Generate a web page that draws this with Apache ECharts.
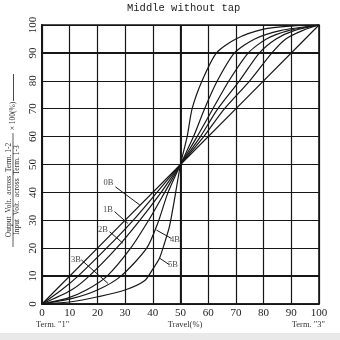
<!DOCTYPE html>
<html>
<head>
<meta charset="utf-8">
<script src="https://cdn.jsdelivr.net/npm/echarts@6/dist/echarts.min.js"></script>
<style>
  html, body { margin: 0; padding: 0; background: #fff; }
  #chart { width: 340px; height: 340px; }
</style>
</head>
<body>
<div id="chart"></div>
<script>
// Axis ticks (both axes run 0..100 %)
const tickValues = [0, 10, 20, 30, 40, 50, 60, 70, 80, 90, 100];

// Taper curves: [travel %, output ratio %]
const curve0B = [[0, 0], [50, 50], [100, 100]];
const curve1B = [[0, 0], [7, 5], [13, 10], [23.3, 20], [32.9, 30], [41.5, 40], [50, 50],
                 [58.4, 60], [65.9, 70], [75, 80], [83, 90], [88, 95], [94, 98], [100, 100]];
const curve2B = [[0, 0], [10.6, 5], [17, 10], [26.9, 20], [35.3, 30], [43, 40], [50, 50],
                 [57.2, 60], [63.5, 70], [71.3, 80], [78.5, 90], [84.5, 95], [91, 98], [100, 100]];
const curve3B = [[0, 0], [9, 2], [16, 5], [23.5, 10], [32, 20], [38.5, 30], [44.3, 40], [50, 50],
                 [56, 60], [61.7, 70], [67.5, 80], [74.5, 90], [81, 95], [89, 98], [100, 100]];
const curve4B = [[0, 0], [11, 2], [20, 5], [28.5, 10], [37.8, 20], [41.8, 29], [45.5, 40], [50, 50],
                 [54.7, 60], [58.7, 70], [63.3, 80], [69.5, 90], [76.8, 95], [86, 98], [100, 100]];
const curve5B = [[0, 0], [10.6, 0.8], [20.2, 2.6], [30, 5], [37, 8.3], [40, 12.5], [42.4, 16.4],
                 [44.2, 21.7], [46, 27.7], [47.8, 37.3], [50, 50],
                 [52.4, 60], [54.2, 70], [57.8, 80], [63, 90], [70, 95], [80, 98.5], [90, 99.6], [100, 100]];

const curveNames = ['0B', '1B', '2B', '3B', '4B', '5B'];
const curveData = [curve0B, curve1B, curve2B, curve3B, curve4B, curve5B];

// Curve labels: text position and leader line (from, to), in data units
const labelPos   = [[24.0, 43.4], [23.8, 33.7], [22.0, 26.5], [12.3, 15.8], [48.0, 22.9], [47.3, 14.0]];
const leaderFrom = [[26.5, 42.0], [26.2, 33.1], [24.4, 25.9], [14.2, 15.8], [41.3, 26.5], [42.5, 16.4]];
const leaderTo   = [[35.3, 35.5], [31.0, 28.9], [29.2, 21.8], [23.8, 7.4], [46.7, 23.5], [46.1, 14.0]];

// Heavier reference lines
const heavyX = [50];
const heavyY = [10, 90];

const INK = '#161616';
const serif = '"Liberation Serif", "DejaVu Serif", serif';

const chart = echarts.init(document.getElementById('chart'), null, { renderer: 'canvas' });

const curveSeries = curveData.map((d, i) => ({
  name: curveNames[i],
  type: 'line',
  data: d,
  smooth: 0.25,
  showSymbol: false,
  symbol: 'none',
  silent: true,
  lineStyle: { color: INK, width: 1.2 },
  z: 5
}));

const heavySeries = {
  type: 'line',
  data: [],
  silent: true,
  markLine: {
    silent: true,
    symbol: 'none',
    label: { show: false },
    lineStyle: { color: INK, width: 1.9, type: 'solid' },
    data: heavyX.map(v => ({ xAxis: v })).concat(heavyY.map(v => ({ yAxis: v })))
  },
  z: 3
};

const labelSeries = {
  type: 'scatter',
  data: labelPos.map((p, i) => ({ value: p, name: curveNames[i] })),
  symbolSize: 0,
  silent: true,
  label: {
    show: true,
    position: 'inside',
    formatter: p => p.name,
    color: INK,
    fontFamily: serif,
    fontSize: 8.5
  },
  markLine: {
    silent: true,
    symbol: 'none',
    label: { show: false },
    lineStyle: { color: INK, width: 1, type: 'solid' },
    data: leaderFrom.map((f, i) => [{ coord: f }, { coord: leaderTo[i] }])
  },
  z: 6
};

const option = {
  backgroundColor: '#ffffff',
  animation: false,
  title: {
    text: 'Middle without tap',
    left: 122,
    top: -2,
    textStyle: { fontFamily: '"Liberation Mono", monospace', fontSize: 10.5, fontWeight: 'normal', color: '#222' }
  },
  grid: {
    left: 42, top: 25, width: 277, height: 279,
    show: true, borderColor: INK, borderWidth: 1.6, backgroundColor: '#fff',
    containLabel: false
  },
  xAxis: {
    type: 'value', min: 0, max: 100, interval: 10,
    axisLine: { show: true, lineStyle: { color: INK, width: 1.6 } },
    axisTick: { show: false },
    axisLabel: {
      margin: 4, color: '#1e1e1e', fontFamily: serif, fontSize: 11,
      formatter: v => (tickValues.includes(v) ? String(v) : '')
    },
    splitLine: { show: true, lineStyle: { color: INK, width: 1.2 } }
  },
  yAxis: {
    type: 'value', min: 0, max: 100, interval: 10,
    axisLine: { show: true, lineStyle: { color: INK, width: 2 } },
    axisTick: { show: false },
    axisLabel: {
      margin: 3, rotate: 90, color: '#1e1e1e', fontFamily: serif, fontSize: 11,
      formatter: v => (tickValues.includes(v) ? String(v) : '')
    },
    splitLine: { show: true, lineStyle: { color: INK, width: 1.2 } }
  },
  graphic: [
    // faint strip along the bottom edge
    { type: 'rect', shape: { x: 0, y: 333, width: 340, height: 7 }, style: { fill: '#e9e9e9' }, silent: true, z: -10 },
    // x-axis captions
    { type: 'text', x: 36, y: 325, style: { text: 'Term. "1"', font: '8.5px ' + serif, fill: '#333', textAlign: 'left', align: 'left', textVerticalAlign: 'middle', verticalAlign: 'middle' } },
    { type: 'text', x: 185, y: 325, style: { text: 'Travel(%)', font: '8.5px ' + serif, fill: '#333', textAlign: 'center', align: 'center', textVerticalAlign: 'middle', verticalAlign: 'middle' } },
    { type: 'text', x: 325, y: 325, style: { text: 'Term. "3"', font: '8.5px ' + serif, fill: '#333', textAlign: 'right', align: 'right', textVerticalAlign: 'middle', verticalAlign: 'middle' } },
    // y-axis caption: ratio of voltages × 100 (%)
    { type: 'text', x: 9.5, y: 190, rotation: Math.PI / 2,
      style: { text: 'Output  Volt.  across  Term. 1-2', font: '7.5px ' + serif, fill: '#333', textAlign: 'center', align: 'center', textVerticalAlign: 'middle', verticalAlign: 'middle' } },
    { type: 'line', shape: { x1: 13, y1: 247, x2: 13, y2: 133 }, style: { stroke: '#333', lineWidth: 0.8 } },
    { type: 'text', x: 17.5, y: 190, rotation: Math.PI / 2,
      style: { text: 'Input  Volt.  across  Term. 1-3', font: '7.5px ' + serif, fill: '#333', textAlign: 'center', align: 'center', textVerticalAlign: 'middle', verticalAlign: 'middle' } },
    { type: 'text', x: 13.5, y: 116, rotation: Math.PI / 2,
      style: { text: '× 100(%)', font: '7.5px ' + serif, fill: '#333', textAlign: 'center', align: 'center', textVerticalAlign: 'middle', verticalAlign: 'middle' } },
    { type: 'line', shape: { x1: 13.5, y1: 101, x2: 13.5, y2: 74 }, style: { stroke: '#333', lineWidth: 0.9 } }
  ],
  series: [heavySeries].concat(curveSeries, [labelSeries])
};

chart.setOption(option);
</script>
</body>
</html>
